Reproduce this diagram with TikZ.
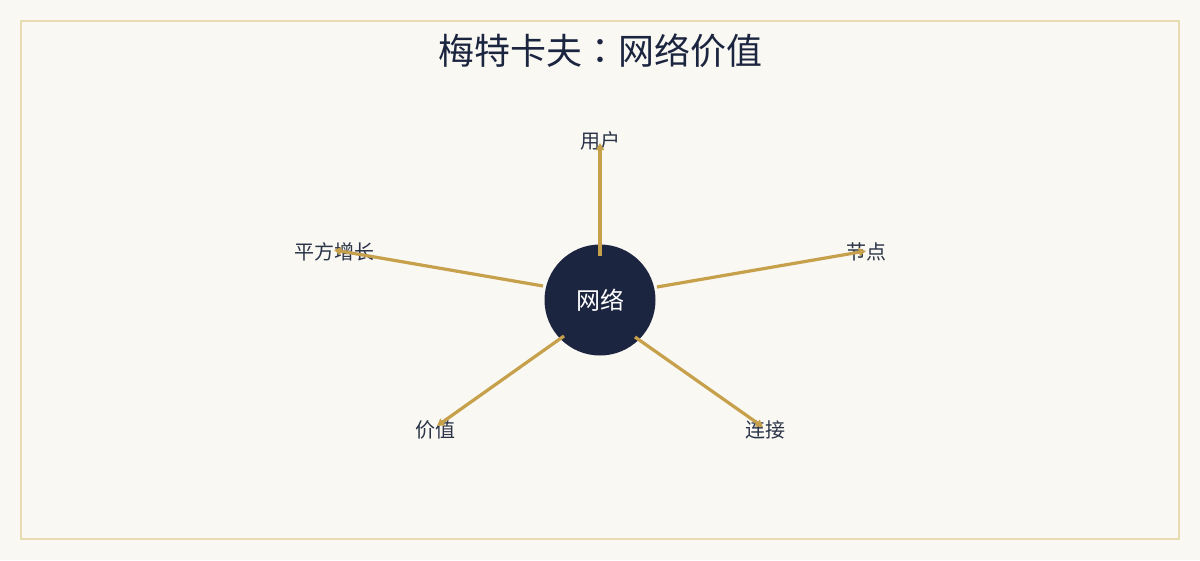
\documentclass[tikz,border=0pt]{standalone}
\usepackage{fontspec}
\newfontfamily\cjk{Noto Sans CJK SC}
\newfontfamily\cjktc{Noto Sans CJK TC}
\usetikzlibrary{arrows.meta}
\definecolor{bgc}{HTML}{FAF8F2}
\definecolor{framec}{HTML}{E8DAB2}
\definecolor{navy}{HTML}{1B2540}
\definecolor{gold}{HTML}{C6A04A}
\definecolor{labc}{HTML}{2A3348}
\begin{document}
\begin{tikzpicture}[x=1pt,y=-1pt,
  lab/.style={font=\cjk\fontsize{20}{23}\selectfont, text=labc, inner sep=0pt},
  spoke/.style={draw=gold, line width=3.2pt, -{Triangle[length=7pt,width=8pt]}}]
\useasboundingbox (0,0) rectangle (1200,560);
\fill[bgc] (0,0) rectangle (1200,560);
\draw[framec, line width=2pt] (21,21) rectangle (1179,539);
\node[font=\cjk\fontsize{36}{40}\selectfont, text=navy, inner sep=0pt] (title) at (600,51) {梅特卡夫{\cjktc ：}网络价值};
\node[circle, fill=navy, minimum size=111pt, inner sep=0pt, text=white, font=\cjk\fontsize{24}{27}\selectfont] (hub) at (600,300) {网络};
\node[lab] (u) at (600,141) {用户};
\node[lab] (n) at (866,252) {节点};
\node[lab] (p) at (334,252) {平方增长};
\node[lab] (v) at (435,430) {价值};
\node[lab] (c) at (765,430) {连接};
\coordinate (su) at (600,256);
\coordinate (sn) at (657,287);
\coordinate (sp) at (543,286);
\coordinate (sv) at (564,336);
\coordinate (sc) at (635,337);
\coordinate (eu) at (600,143);
\coordinate (en) at (866,251);
\coordinate (ep) at (334,250);
\coordinate (ev) at (437,426);
\coordinate (ec) at (763,427);
\draw[spoke] (su) -- (eu);
\draw[spoke] (sn) -- (en);
\draw[spoke] (sp) -- (ep);
\draw[spoke] (sv) -- (ev);
\draw[spoke] (sc) -- (ec);
\end{tikzpicture}
\end{document}
